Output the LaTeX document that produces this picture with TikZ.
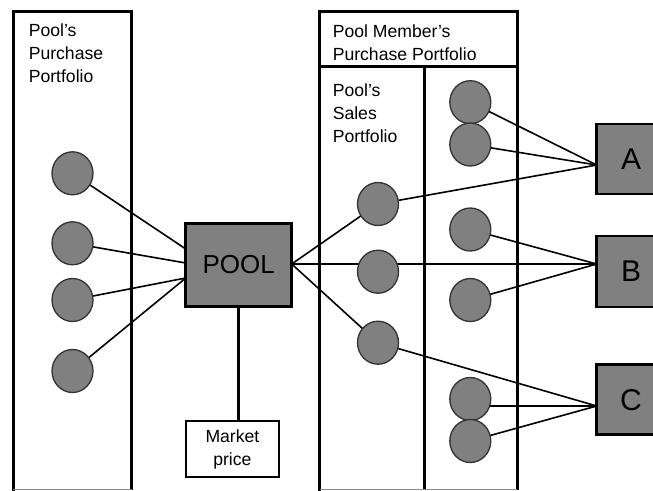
\documentclass[tikz,border=0pt]{standalone}
\usepackage{fontspec}
\setmainfont{Liberation Sans}
\usetikzlibrary{shapes.geometric,backgrounds}
\definecolor{boxgray}{RGB}{128,128,128}
\begin{document}
\begin{tikzpicture}[x=1pt,y=-1pt,
  lbl/.style={font=\fontsize{17.6}{23}\selectfont, inner sep=0pt, align=left, anchor=north west},
  dot/.style={ellipse, minimum width=41pt, minimum height=43pt, inner sep=0pt,
              fill=boxgray, draw=black!80, line width=1.3pt},
  solidbox/.style={rectangle, fill=boxgray, draw=black, line width=3pt, inner sep=0pt},
  party/.style={solidbox, line width=2.7pt, minimum width=68.6pt,
                font=\fontsize{30}{34}\selectfont},
  link/.style={line width=1.6pt, black},
  edge/.style={line width=3pt, black},
  thinedge/.style={line width=2.5pt, black},
  cut/.style={line width=1pt, black!45},
]
\useasboundingbox (0,0) rectangle (653,490);
\clip (0,0) rectangle (653,490);

% portfolio frames (open towards the bottom)
\draw[thinedge, line cap=rect] (13.3,490) -- (13.3,11.7);
\draw[edge, line join=miter] (12,11.7) -- (131.7,11.7) -- (131.7,490);
\draw[cut] (13.3,489.3) -- (131.7,489.3);

\draw[thinedge, line cap=rect] (319.5,490) -- (319.5,11.7);
\draw[edge, line join=miter] (318.5,11.7) -- (517.2,11.7) -- (517.2,490);
\draw[line width=2.7pt] (319.5,66.3) -- (517.2,66.3);
\draw[line width=2.7pt] (424.7,66.3) -- (424.7,490);
\draw[cut] (319.5,489.3) -- (517.2,489.3);

% labels
\node[lbl] (buyLbl) at (28.6,23.3) {Pool’s\\Purchase\\Portfolio};
\node[lbl] (memberLbl) at (332.6,25) {Pool Member’s\\Purchase Portfolio};
\node[lbl] (salesLbl) at (332.6,83.3) {Pool’s\\Sales\\Portfolio};

% the pool and the market price
\node[solidbox, minimum width=106pt, minimum height=83.4pt,
      font=\fontsize{26}{30}\selectfont] (pool) at (238.7,265) {POOL};
\node[draw=black, fill=white, line width=2.2pt, minimum width=92.5pt, minimum height=55.4pt,
      inner sep=0pt, align=center, font=\fontsize{17.6}{23}\selectfont]
      (market) at (232.4,449) {Market\\price};

% members
\node[party, minimum height=70.2pt] (A) at (631,159) {A};
\node[party, minimum height=71pt] (B) at (631,271.6) {B};
\node[party, minimum height=70pt] (C) at (631,399.7) {C};

% purchase portfolio contracts
\node[dot] (p1) at (72.5,173.3) {};
\node[dot] (p2) at (72.5,243.3) {};
\node[dot] (p3) at (72.5,300) {};
\node[dot] (p4) at (72.5,371) {};

% sales portfolio contracts
\node[dot] (s1) at (378,204) {};
\node[dot] (s2) at (378,271.7) {};
\node[dot] (s3) at (378,342.7) {};

% members' own purchase contracts
\node[dot] (m1) at (470.3,102.2) {};
\node[dot] (m2) at (470.3,144.5) {};
\node[dot] (m3) at (470.3,229.5) {};
\node[dot] (m4) at (470.3,300) {};
\node[dot] (m5) at (470.3,399) {};
\node[dot] (m6) at (470.3,441) {};

% connection points on the box borders
\coordinate (pin1) at (185.8,249);
\coordinate (pin2) at (185.8,263);
\coordinate (pin3) at (185.8,278);
\coordinate (pout) at (291.7,264);
\coordinate (Ain) at (596.7,165);
\coordinate (Bin) at (596.7,264);
\coordinate (Cin) at (596.7,406);

\begin{pgfonlayer}{background}
  \fill[white] (0,0) rectangle (653,490);
  % purchases into the pool
  \draw[link] (p1.center) -- (pin1);
  \draw[link] (p2.center) -- (pin2);
  \draw[link] (p3.center) -- (pin3);
  \draw[link] (p4.center) -- (pin3);
  % sales out of the pool
  \draw[link] (pout) -- (s1.center);
  \draw[link] (pout) -- (Bin);
  \draw[link] (pout) -- (s3.center);
  % member A
  \draw[link] (m1.center) -- (Ain);
  \draw[link] (m2.center) -- (Ain);
  \draw[link] (s1.center) -- (Ain);
  % member B
  \draw[link] (m3.center) -- (Bin);
  \draw[link] (m4.center) -- (Bin);
  % member C
  \draw[link] (s3.center) -- (Cin);
  \draw[link] (m5.center |- Cin) -- (Cin);
  \draw[link] (m6.center) -- (Cin);
  % market price feed
  \draw[line width=2.5pt] (pool.south) -- (pool.south |- market.north);
\end{pgfonlayer}
\end{tikzpicture}
\end{document}
